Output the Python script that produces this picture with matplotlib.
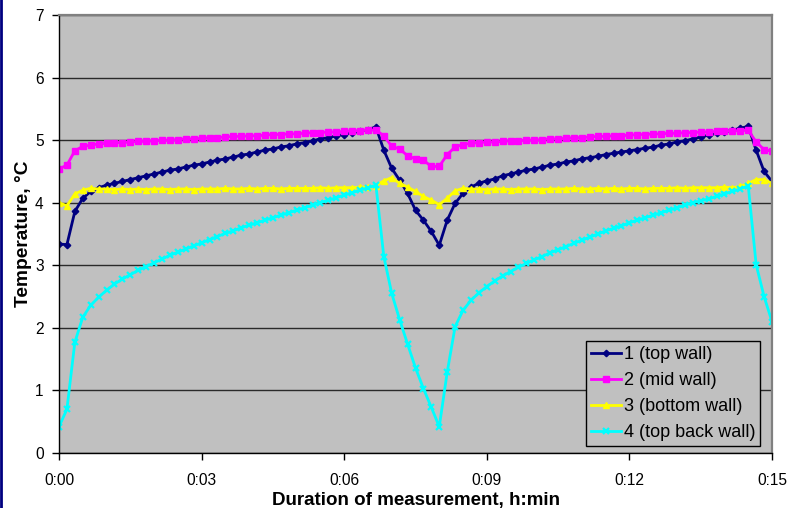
import numpy as np
import matplotlib
matplotlib.use("Agg")
import matplotlib.pyplot as plt
from matplotlib.lines import Line2D
from matplotlib.ticker import FixedLocator

plt.rcParams['font.family'] = ['Liberation Sans', 'DejaVu Sans']

# sampling interval (seconds) of the logged series
sample_interval_s = 10

series_labels = ["1 (top wall)", "2 (mid wall)", "3 (bottom wall)", "4 (top back wall)"]

top_wall = [3.34, 3.33, 3.86, 4.07, 4.18, 4.24, 4.28, 4.31, 4.34, 4.37,
            4.40, 4.43, 4.46, 4.49, 4.52, 4.54, 4.57, 4.60, 4.62, 4.65,
            4.68, 4.70, 4.73, 4.76, 4.78, 4.81, 4.84, 4.86, 4.89, 4.91,
            4.94, 4.96, 4.99, 5.02, 5.04, 5.07, 5.09, 5.12, 5.14, 5.17,
            5.21, 4.84, 4.55, 4.36, 4.15, 3.88, 3.72, 3.54, 3.32, 3.72,
            3.99, 4.15, 4.25, 4.31, 4.35, 4.38, 4.43, 4.46, 4.49, 4.52,
            4.54, 4.57, 4.60, 4.62, 4.65, 4.67, 4.70, 4.72, 4.74, 4.77,
            4.79, 4.81, 4.83, 4.85, 4.87, 4.89, 4.92, 4.94, 4.97, 4.99,
            5.02, 5.05, 5.08, 5.11, 5.13, 5.16, 5.19, 5.22, 4.84, 4.50,
            4.34, 4.20]

mid_wall = [4.54, 4.60, 4.83, 4.90, 4.92, 4.94, 4.95, 4.96, 4.96, 4.97,
            4.98, 4.98, 4.99, 5.00, 5.00, 5.01, 5.02, 5.02, 5.03, 5.04,
            5.04, 5.05, 5.06, 5.06, 5.07, 5.07, 5.08, 5.09, 5.09, 5.10,
            5.10, 5.11, 5.12, 5.12, 5.13, 5.13, 5.14, 5.15, 5.15, 5.16,
            5.16, 5.07, 4.90, 4.86, 4.75, 4.70, 4.68, 4.58, 4.58, 4.77,
            4.89, 4.93, 4.95, 4.96, 4.97, 4.97, 4.98, 4.99, 4.99, 5.00,
            5.00, 5.01, 5.02, 5.02, 5.03, 5.04, 5.04, 5.05, 5.06, 5.06,
            5.07, 5.07, 5.08, 5.09, 5.09, 5.10, 5.10, 5.11, 5.11, 5.12,
            5.12, 5.13, 5.13, 5.14, 5.14, 5.15, 5.15, 5.16, 4.97, 4.85,
            4.82, 4.80]

bottom_wall = [4.00, 3.95, 4.14, 4.20, 4.23, 4.22, 4.22, 4.21, 4.22, 4.21,
               4.22, 4.21, 4.22, 4.22, 4.21, 4.22, 4.22, 4.21, 4.22, 4.22,
               4.22, 4.23, 4.22, 4.22, 4.23, 4.22, 4.23, 4.23, 4.22, 4.23,
               4.23, 4.23, 4.23, 4.24, 4.23, 4.24, 4.24, 4.24, 4.25, 4.25,
               4.27, 4.35, 4.40, 4.31, 4.25, 4.18, 4.10, 4.04, 3.97, 4.07,
               4.19, 4.23, 4.22, 4.22, 4.21, 4.22, 4.22, 4.21, 4.22, 4.22,
               4.22, 4.21, 4.22, 4.22, 4.22, 4.23, 4.22, 4.22, 4.23, 4.22,
               4.23, 4.22, 4.23, 4.23, 4.22, 4.23, 4.23, 4.23, 4.24, 4.23,
               4.24, 4.24, 4.24, 4.24, 4.25, 4.24, 4.26, 4.31, 4.37, 4.37,
               4.31, 4.27]

top_back_wall = [0.42, 0.70, 1.77, 2.17, 2.36, 2.49, 2.60, 2.70, 2.78, 2.85,
                 2.92, 2.98, 3.04, 3.10, 3.16, 3.21, 3.26, 3.31, 3.36, 3.41,
                 3.46, 3.51, 3.55, 3.60, 3.64, 3.68, 3.72, 3.76, 3.80, 3.84,
                 3.88, 3.92, 3.96, 4.00, 4.04, 4.08, 4.12, 4.16, 4.20, 4.24,
                 4.28, 3.14, 2.55, 2.13, 1.74, 1.36, 1.03, 0.73, 0.42, 1.29,
                 2.02, 2.28, 2.44, 2.56, 2.66, 2.75, 2.83, 2.90, 2.97, 3.03,
                 3.09, 3.14, 3.20, 3.25, 3.30, 3.35, 3.40, 3.45, 3.50, 3.55,
                 3.59, 3.63, 3.68, 3.72, 3.76, 3.80, 3.84, 3.88, 3.92, 3.96,
                 4.00, 4.03, 4.06, 4.10, 4.14, 4.18, 4.22, 4.27, 3.01, 2.50,
                 2.10, 1.70]

x_tick_minutes = [0, 3, 6, 9, 12, 15]
x_tick_labels = ["0:00", "0:03", "0:06", "0:09", "0:12", "0:15"]
y_ticks = [0, 1, 2, 3, 4, 5, 6, 7]

minutes = np.arange(len(top_wall)) * sample_interval_s / 60.0

fig = plt.figure(figsize=(7.88, 5.08), dpi=100)
fig.patch.set_facecolor('white')
ax = fig.add_axes([59/788, 1-453/508, (772-59)/788, (453-15)/508])
ax.set_facecolor('#C0C0C0')

styles = [
    dict(color='#000080', marker='D', markersize=3.3),
    dict(color='#FF00FF', marker='s', markersize=4.3),
    dict(color='#FFFF00', marker='^', markersize=4.8),
    dict(color='#00FFFF', marker='x', markersize=4.5, markeredgewidth=1.6),
]
for vals, lab, st in zip([top_wall, mid_wall, bottom_wall, top_back_wall], series_labels, styles):
    ax.plot(minutes, vals, lw=2.0, label=lab, clip_on=True, **st)

ax.set_xlim(0, 15)
ax.set_ylim(0, 7)
ax.xaxis.set_major_locator(FixedLocator(x_tick_minutes))
ax.set_xticklabels(x_tick_labels)
ax.set_yticks(y_ticks)
ax.yaxis.grid(True, color='#2a2a2a', lw=1.0)
ax.set_axisbelow(True)

for s in ['top', 'right']:
    ax.spines[s].set_color('#808080')
    ax.spines[s].set_linewidth(1.6)
for s in ['left', 'bottom']:
    ax.spines[s].set_color('black')
    ax.spines[s].set_linewidth(1.0)

ax.tick_params(axis='both', direction='out', length=5, width=1, labelsize=11.2, colors='black')
ax.tick_params(axis='x', pad=9.3)
ax.tick_params(axis='y', pad=6.0)

ax.set_xlabel("Duration of measurement, h:min", fontsize=13.5, fontweight='bold', va='baseline')
ax.xaxis.set_label_coords(0.5, (453-504.5)/438)
ax.set_ylabel("Temperature, °C", fontsize=13.8, fontweight='bold')
ax.yaxis.set_label_coords((32-59)/713, 0.5)

leg = ax.legend(loc='lower right', bbox_to_anchor=((760-59)/713, (453-445.5)/438),
                prop={'size': 13}, frameon=True, fancybox=False,
                facecolor='#C0C0C0', edgecolor='black', framealpha=1,
                handlelength=1.7, handletextpad=0.15, labelspacing=0.5,
                borderpad=0.25, borderaxespad=0)
leg.get_frame().set_linewidth(1.0)

# navy border on the left edge of the picture
fig.add_artist(Line2D([1.2/788, 1.2/788], [0, 1], color='#000080', lw=2.0,
                      transform=fig.transFigure))

fig.savefig("out.png", dpi=100, facecolor='white')
